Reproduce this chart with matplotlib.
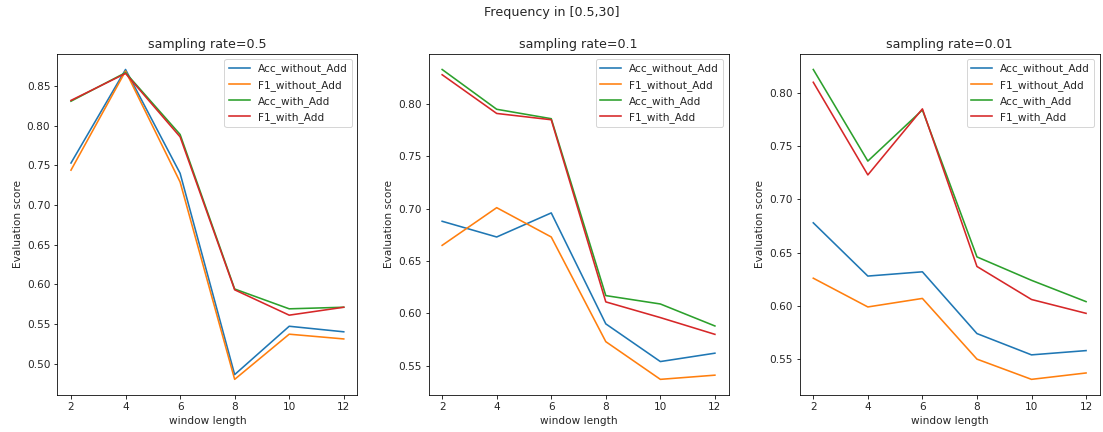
import matplotlib
matplotlib.use("Agg")
import matplotlib.pyplot as plt

window_lengths = [2, 4, 6, 8, 10, 12]
rates = ["0.5", "0.1", "0.01"]

acc_without = {
    "0.5": [0.753, 0.871, 0.740, 0.486, 0.547, 0.540],
    "0.1": [0.688, 0.673, 0.696, 0.590, 0.554, 0.562],
    "0.01": [0.678, 0.628, 0.632, 0.574, 0.554, 0.558],
}
f1_without = {
    "0.5": [0.744, 0.869, 0.729, 0.480, 0.537, 0.531],
    "0.1": [0.665, 0.701, 0.673, 0.573, 0.537, 0.541],
    "0.01": [0.626, 0.599, 0.607, 0.550, 0.531, 0.537],
}
acc_with = {
    "0.5": [0.831, 0.867, 0.789, 0.594, 0.569, 0.571],
    "0.1": [0.833, 0.795, 0.786, 0.617, 0.609, 0.588],
    "0.01": [0.822, 0.736, 0.784, 0.646, 0.624, 0.604],
}
f1_with = {
    "0.5": [0.832, 0.866, 0.786, 0.593, 0.561, 0.571],
    "0.1": [0.828, 0.791, 0.785, 0.611, 0.596, 0.580],
    "0.01": [0.810, 0.723, 0.785, 0.637, 0.606, 0.593],
}

plt.rcParams["font.size"] = 10.5
plt.rcParams["text.color"] = "#262626"
plt.rcParams["axes.labelcolor"] = "#262626"
plt.rcParams["xtick.labelcolor"] = "#262626"
plt.rcParams["ytick.labelcolor"] = "#262626"

fig, axes = plt.subplots(1, 3, figsize=(1103 / 72, 432 / 72), dpi=72)
fig.subplots_adjust(left=0.052, right=0.997, top=0.875, bottom=0.086, wspace=0.237)

for ax, r in zip(axes, rates):
    ax.plot(window_lengths, acc_without[r], label="Acc_without_Add", lw=1.6)
    ax.plot(window_lengths, f1_without[r], label="F1_without_Add", lw=1.6)
    ax.plot(window_lengths, acc_with[r], label="Acc_with_Add", lw=1.6)
    ax.plot(window_lengths, f1_with[r], label="F1_with_Add", lw=1.6)
    ax.set_title(f"sampling rate={r}")
    ax.set_xlabel("window length")
    ax.set_ylabel("Evaluation score")
    ax.set_xticks(window_lengths)
    ax.legend(loc="upper right")

fig.suptitle("Frequency in [0.5,30]", y=0.985)
fig.savefig("out.png", dpi=72)
